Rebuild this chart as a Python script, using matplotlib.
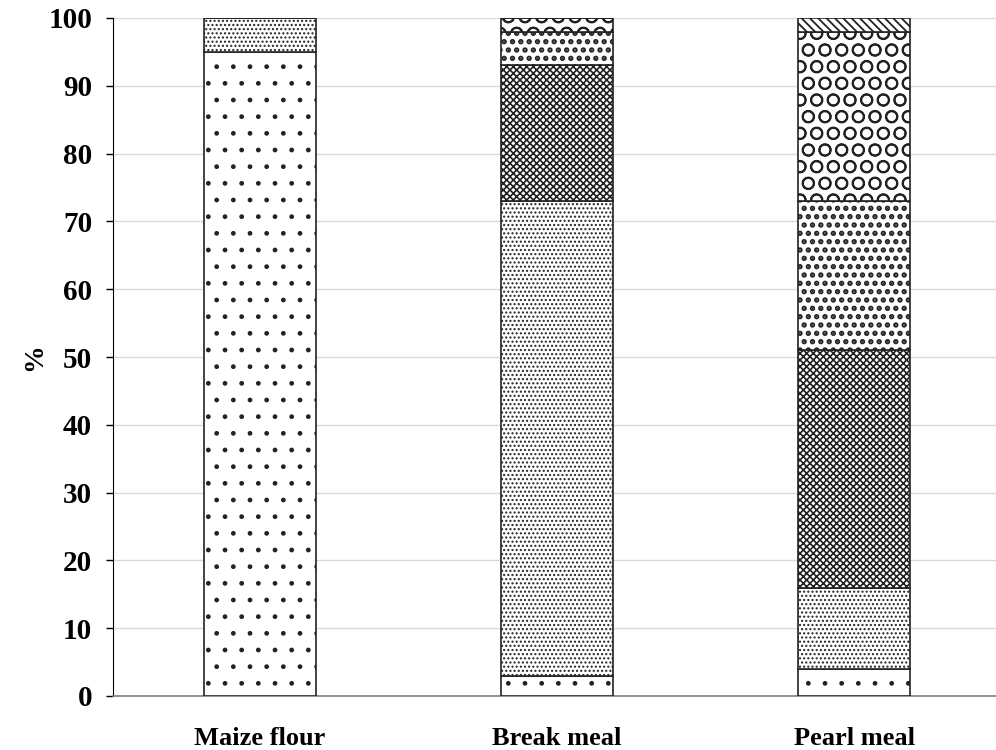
import matplotlib
matplotlib.use("Agg")
import matplotlib.pyplot as plt
import numpy as np

categories = ["Maize flour", "Break meal", "Pearl meal"]
s1 = [95, 3, 4]
s2 = [5, 70, 12]
s3 = [0, 20, 35]
s4 = [0, 5, 22]
s5 = [0, 2, 25]
s6 = [0, 0, 2]
series = [s1, s2, s3, s4, s5, s6]
hatches = [". ", "....", "xxxxx", "..", "O", "\\\\\\\\"]
hatch_lw = [1.0, 1.0, 1.2, 2.6, 1.3, 1.3]

plt.rcParams['font.family'] = ['Liberation Serif', 'DejaVu Serif']

fig = plt.figure(figsize=(9.96, 7.5), dpi=100)
ax = fig.add_axes([0.1135, 0.072, 0.8865, 0.904])

x = np.arange(len(categories))
bottom = np.zeros(len(categories))
for vals, h, hl in zip(series, hatches, hatch_lw):
    v = np.array(vals, dtype=float)
    with plt.rc_context({'hatch.linewidth': hl}):
        bars = ax.bar(x, v, 0.375, bottom=bottom, color="white", edgecolor="#222222",
                      hatch=h, linewidth=1.2, zorder=3)
        for b in bars:
            if hasattr(b, "set_hatch_linewidth"):
                b.set_hatch_linewidth(hl)
    bottom += v

ax.set_xlim(-0.495, 2.478)
ax.set_ylim(0, 100)
ax.set_yticks(np.arange(0, 101, 10))
ax.set_xticks(x)
ax.set_xticklabels(categories, fontsize=19, fontweight="bold")
ax.tick_params(axis="x", length=0, pad=22)
ax.tick_params(axis="y", labelsize=21, length=5, direction="out", width=1, pad=10)
for lab in ax.get_yticklabels():
    lab.set_fontweight("bold")
ax.set_ylabel("%", fontsize=20, fontweight="bold", labelpad=1)
ax.yaxis.grid(True, color="#d9d9d9", linewidth=1, zorder=0)
ax.spines["top"].set_visible(False)
ax.spines["right"].set_visible(False)
ax.spines["bottom"].set_color("#808080")
ax.spines["bottom"].set_linewidth(1.2)
ax.spines["left"].set_color("black")

fig.savefig("out.png", dpi=100)
